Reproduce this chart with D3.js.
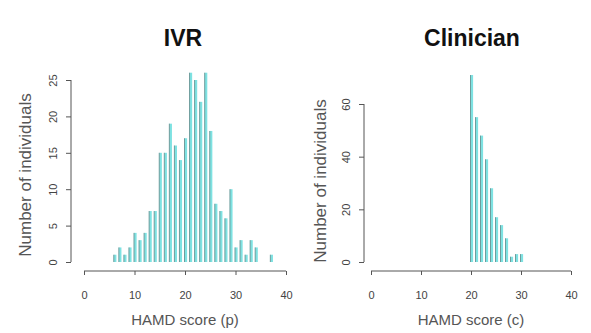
<!DOCTYPE html>
<html>
<head>
<meta charset="utf-8">
<script src="https://cdn.jsdelivr.net/npm/d3@7"></script>
<style>
  body { margin: 0; background: #fff; }
  svg text { font-family: "Liberation Sans", Arial, sans-serif; }
</style>
</head>
<body>
<div id="chart"></div>
<script>
"use strict";

// IVR (patient) HAMD scores and counts
var ivrScores = [6, 7, 8, 9, 10, 11, 12, 13, 14, 15, 16, 17, 18, 19, 20, 21, 22, 23, 24, 25, 26, 27, 28, 29, 30, 31, 32, 33, 34, 37];
var ivrCounts = [1, 2, 1, 2, 4, 3, 4, 7, 7, 15, 15, 19, 16, 14, 17, 26, 25, 22, 26, 18, 8, 7, 6, 10, 2, 3, 1, 3, 2, 1];

// Clinician HAMD scores and counts
var clinScores = [20, 21, 22, 23, 24, 25, 26, 27, 28, 29, 30];
var clinCounts = [71, 55, 48, 39, 28, 17, 14, 9, 2, 3, 3];

var xTicks = [0, 10, 20, 30, 40];
var ivrYTicks = [0, 5, 10, 15, 20, 25];
var clinYTicks = [0, 20, 40, 60];

var W = 591, H = 333;
var svg = d3.select("#chart").append("svg").attr("width", W).attr("height", H);

function panel(opt) {
    var g = svg.append("g");
    var x = d3.scaleLinear().domain([0, 40]).range([opt.x0, opt.x1]);
    var y = d3.scaleLinear().domain([0, opt.yMax]).range([262, opt.yTop]);

    // bars: cyan strip with a grey edge line
    var data = opt.scores.map(function (s, i) { return {s: s, n: opt.counts[i]}; });
    g.selectAll("rect.bar").data(data).enter().append("rect")
        .attr("class", "bar")
        .attr("x", function (d) { return x(d.s) - 0.5; })
        .attr("width", 2.6)
        .attr("y", function (d) { return y(d.n); })
        .attr("height", function (d) { return y(0) - y(d.n); })
        .attr("fill", "#7ee2e2");
    g.selectAll("line.bar").data(data).enter().append("line")
        .attr("class", "bar")
        .attr("x1", function (d) { return x(d.s) - 0.5; })
        .attr("x2", function (d) { return x(d.s) - 0.5; })
        .attr("y1", function (d) { return y(d.n); })
        .attr("y2", y(0))
        .attr("stroke", "#6f9c9c")
        .attr("stroke-width", 1);

    // x axis
    var xa = g.append("g").attr("transform", "translate(0,271)")
        .call(d3.axisBottom(x).tickValues(xTicks).tickSize(4).tickPadding(16));
    xa.select(".domain").attr("stroke", "#555").attr("d", "M" + opt.x0 + ",0H" + opt.x1);
    xa.selectAll(".tick line").attr("stroke", "#555");
    xa.selectAll(".tick text").attr("font-size", 11).attr("fill", "#444");

    // y axis, rotated labels like R
    var ya = g.append("g").attr("transform", "translate(" + opt.yAxisX + ",0)")
        .call(d3.axisLeft(y).tickValues(opt.yTicks).tickSize(5));
    ya.select(".domain").attr("stroke", "#555")
        .attr("d", "M0," + y(0) + "V" + y(opt.yTicks[opt.yTicks.length - 1]));
    ya.selectAll(".tick line").attr("stroke", "#555");
    ya.selectAll(".tick text")
        .attr("font-size", 11).attr("fill", "#444")
        .attr("text-anchor", "middle")
        .attr("transform", "rotate(-90)")
        .attr("x", 0).attr("y", -14).attr("dy", 0);

    // titles and labels
    g.append("text").attr("x", opt.titleX).attr("y", 46)
        .attr("text-anchor", "middle").attr("font-size", 23).attr("font-weight", "bold")
        .attr("fill", "#111").text(opt.title);
    g.append("text").attr("x", (opt.x0 + opt.x1) / 2).attr("y", 325)
        .attr("text-anchor", "middle").attr("font-size", 15).attr("fill", "#555")
        .text(opt.xLabel);
    g.append("text")
        .attr("transform", "translate(" + opt.yLabelX + "," + opt.yLabelY + ") rotate(-90)")
        .attr("text-anchor", "middle").attr("font-size", 17).attr("fill", "#555")
        .text("Number of individuals");
}

panel({
    x0: 84, x1: 286, yMax: 25, yTop: 80, yTicks: ivrYTicks, yAxisX: 71,
    scores: ivrScores, counts: ivrCounts,
    title: "IVR", titleX: 183, xLabel: "HAMD score (p)", yLabelX: 31, yLabelY: 175
});
panel({
    x0: 371, x1: 571, yMax: 60, yTop: 104, yTicks: clinYTicks, yAxisX: 364,
    scores: clinScores, counts: clinCounts,
    title: "Clinician", titleX: 472, xLabel: "HAMD score (c)", yLabelX: 326, yLabelY: 181
});
</script>
</body>
</html>
